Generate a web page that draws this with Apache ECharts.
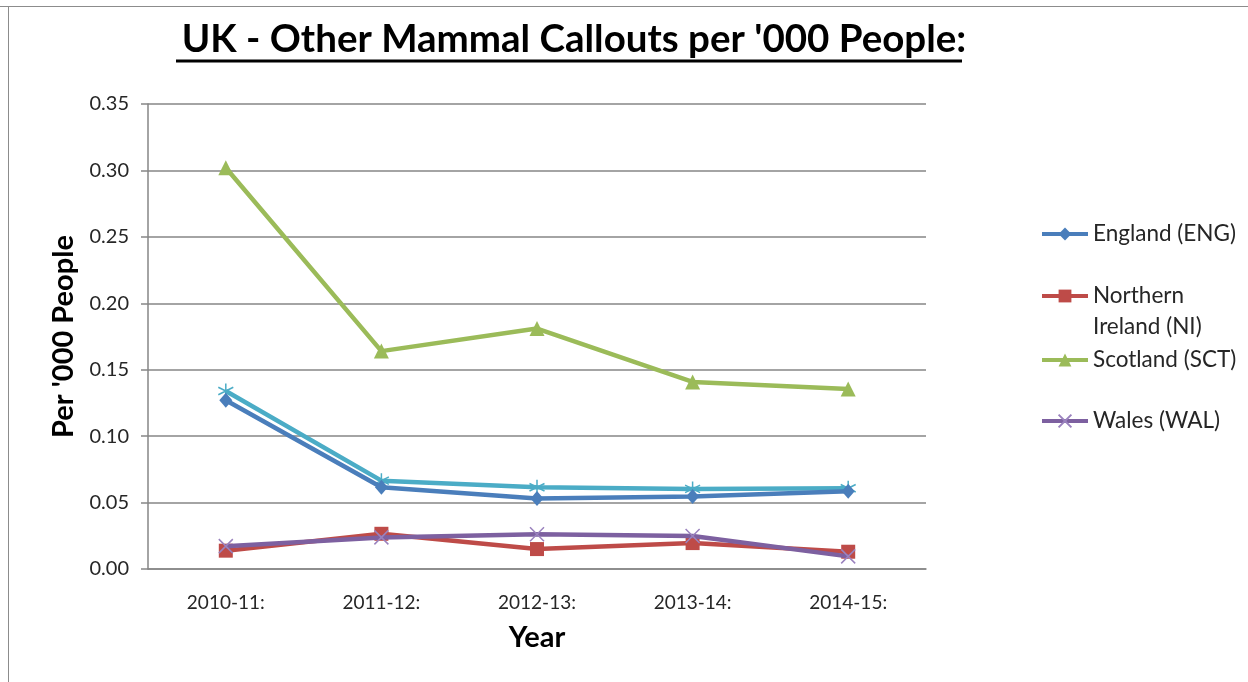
<!DOCTYPE html>
<html>
<head>
<meta charset="utf-8">
<script src="https://cdn.jsdelivr.net/npm/echarts@6/dist/echarts.min.js"></script>
<style>html,body{margin:0;padding:0;background:#fff;}#c{width:1248px;height:682px;}</style>
</head>
<body>
<div id="c"></div>
<script>
const categories = ['2010-11:', '2011-12:', '2012-13:', '2013-14:', '2014-15:'];
const england = [0.127, 0.0615, 0.053, 0.0545, 0.0585];
const northernIreland = [0.0138, 0.0265, 0.015, 0.0195, 0.013];
const scotland = [0.302, 0.164, 0.181, 0.1408, 0.1355];
const wales = [0.0172, 0.0238, 0.0262, 0.0248, 0.0095];
const uk = [0.134, 0.0665, 0.0615, 0.0603, 0.0608];
const yTicks = { min: 0, max: 0.35, interval: 0.05 };

const FONT = 'Lato, "Open Sans", sans-serif';
const chart = echarts.init(document.getElementById('c'), null, { renderer: 'canvas' });

function legendItem(name, top, extra) {
  return Object.assign({
    orient: 'vertical', left: 1040, top: top, padding: 0,
    itemWidth: 46, itemHeight: 16, itemGap: 0,
    data: [name], selectedMode: false,
    lineStyle: { width: 4 },
    textStyle: { fontFamily: FONT, fontSize: 22.5, color: '#262626', lineHeight: 31 }
  }, extra || {});
}

chart.setOption({
  animation: false,
  backgroundColor: '#fff',
  title: {
    text: "UK - Other Mammal Callouts per '000 People:",
    left: 569, textAlign: 'center', top: 15,
    textStyle: { fontFamily: FONT, fontSize: 38.5, fontWeight: 'bold', color: '#000' }
  },
  graphic: [
    { type: 'line', shape: { x1: 176, y1: 61, x2: 962, y2: 61 }, style: { stroke: '#000', lineWidth: 3 } },
    { type: 'line', shape: { x1: 0, y1: 6.5, x2: 1248, y2: 6.5 }, style: { stroke: '#8c8c8c', lineWidth: 1 } },
    { type: 'line', shape: { x1: 8.5, y1: 6, x2: 8.5, y2: 682 }, style: { stroke: '#8c8c8c', lineWidth: 1 } }
  ],
  legend: [
    legendItem('England (ENG)', 234 - 15.5),
    legendItem('Northern Ireland (NI)', 296 - 46.5, {
      formatter: function () { return '\nNorthern\nIreland (NI)'; }
    }),
    legendItem('Scotland (SCT)', 360 - 15.5),
    legendItem('Wales (WAL)', 421 - 15.5)
  ],
  grid: { left: 148, right: 322, top: 104, bottom: 113, containLabel: false },
  xAxis: {
    type: 'category', data: categories, boundaryGap: true,
    name: 'Year', nameLocation: 'middle', nameGap: 54,
    nameTextStyle: { fontFamily: FONT, fontSize: 29, fontWeight: 'bold', color: '#000' },
    axisLine: { show: true, lineStyle: { color: '#868686', width: 1.5 } },
    axisTick: { show: false },
    axisLabel: { fontFamily: FONT, fontSize: 19, color: '#262626', margin: 24 }
  },
  yAxis: {
    type: 'value', min: yTicks.min, max: yTicks.max, interval: yTicks.interval,
    name: "Per '000 People", nameLocation: 'middle', nameGap: 70, nameRotate: 90,
    nameTextStyle: { fontFamily: FONT, fontSize: 29, fontWeight: 'bold', color: '#000' },
    axisLine: { show: true, lineStyle: { color: '#868686', width: 1.5 } },
    axisTick: { show: true, length: 7, lineStyle: { color: '#868686', width: 1.5 } },
    splitLine: { show: true, lineStyle: { color: '#868686', width: 1.5 } },
    axisLabel: { fontFamily: FONT, fontSize: 20, color: '#262626', margin: 19,
      formatter: function (v) { return v.toFixed(2); } }
  },
  series: [
    { name: 'UK', type: 'line', data: uk, color: '#4BACC6', symbol: 'path://M0,-10L0,10M-8.7,-5L8.7,5M-8.7,5L8.7,-5', symbolSize: 15,
      lineStyle: { width: 4.5 }, itemStyle: { borderWidth: 1.5, borderColor: '#4BACC6' }, z: 2 },
    { name: 'England (ENG)', type: 'line', data: england, color: '#4A7EBB', symbol: 'diamond', symbolSize: [13, 15],
      lineStyle: { width: 4.5 }, z: 3 },
    { name: 'Northern Ireland (NI)', type: 'line', data: northernIreland, color: '#BE4B48', symbol: 'rect', symbolSize: 14,
      lineStyle: { width: 4.5 }, z: 3 },
    { name: 'Scotland (SCT)', type: 'line', data: scotland, color: '#9BBB59', symbol: 'triangle', symbolSize: 15,
      lineStyle: { width: 4.5 }, z: 3 },
    { name: 'Wales (WAL)', type: 'line', data: wales, color: '#7D60A0', symbol: 'path://M-8,-8L8,8M-8,8L8,-8', symbolSize: 14,
      lineStyle: { width: 4.5 }, itemStyle: { borderWidth: 1.5, borderColor: '#9A82BE' }, z: 4 }
  ]
});
</script>
</body>
</html>
